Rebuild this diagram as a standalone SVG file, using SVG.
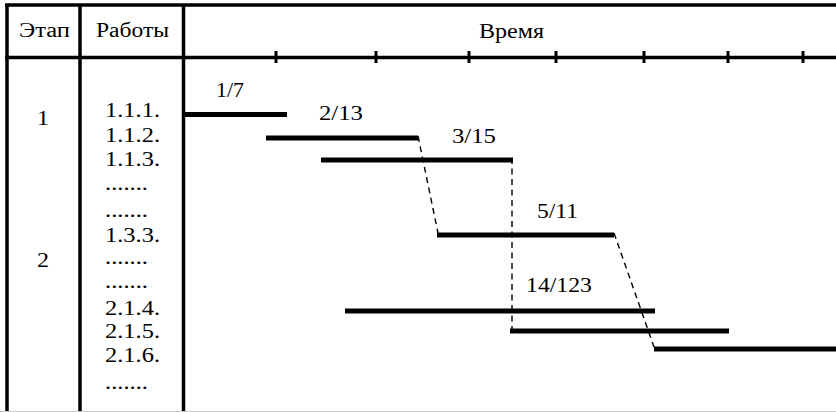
<svg xmlns="http://www.w3.org/2000/svg" width="836" height="412" viewBox="0 0 836 412">
  <style>
    text { font-family: "Liberation Serif", "DejaVu Serif", serif; font-size: 20px; fill: #000; }
    .grid { stroke: #000; stroke-width: 3.5; fill: none; }
    .tick { stroke: #000; stroke-width: 3; }
    .bar { stroke: #000; stroke-width: 5; stroke-linecap: butt; }
    .dep { stroke: #000; stroke-width: 1.4; stroke-dasharray: 6 4.5; fill: none; }
  </style>
  <rect width="836" height="412" fill="#fff"/>
  <g id="table">
    <line class="grid" x1="5" y1="5" x2="836" y2="5"/>
    <line class="grid" x1="5" y1="57.5" x2="836" y2="57.5"/>
    <line class="grid" x1="7" y1="4" x2="7" y2="412"/>
    <line class="grid" x1="80" y1="4" x2="80" y2="412"/>
    <line class="grid" x1="183.5" y1="4" x2="183.5" y2="412"/>
    <line x1="0" y1="411.5" x2="836" y2="411.5" stroke="#c8c8c8" stroke-width="1"/>
  </g>
  <g id="header">
    <text x="19" y="37" textLength="51" lengthAdjust="spacingAndGlyphs">Этап</text>
    <text x="96" y="37" textLength="73" lengthAdjust="spacingAndGlyphs">Работы</text>
    <text x="479" y="38" textLength="65" lengthAdjust="spacingAndGlyphs">Время</text>
  </g>
  <g id="ticks">
    <line class="tick" x1="276" y1="51" x2="276" y2="63"/>
    <line class="tick" x1="376" y1="51" x2="376" y2="63"/>
    <line class="tick" x1="469" y1="51" x2="469" y2="63"/>
    <line class="tick" x1="556" y1="51" x2="556" y2="63"/>
    <line class="tick" x1="644" y1="51" x2="644" y2="63"/>
    <line class="tick" x1="728" y1="51" x2="728" y2="63"/>
    <line class="tick" x1="803" y1="51" x2="803" y2="63"/>
  </g>
  <g id="stages">
    <text x="37" y="125" textLength="12" lengthAdjust="spacingAndGlyphs">1</text>
    <text x="37" y="267" textLength="12" lengthAdjust="spacingAndGlyphs">2</text>
  </g>
  <g id="works" lengthAdjust="spacingAndGlyphs">
    <text x="105" y="117" textLength="55" lengthAdjust="spacingAndGlyphs">1.1.1.</text>
    <text x="105" y="142" textLength="55" lengthAdjust="spacingAndGlyphs">1.1.2.</text>
    <text x="105" y="166" textLength="55" lengthAdjust="spacingAndGlyphs">1.1.3.</text>
    <text x="105" y="190" textLength="43" lengthAdjust="spacingAndGlyphs">.......</text>
    <text x="105" y="217" textLength="43" lengthAdjust="spacingAndGlyphs">.......</text>
    <text x="105" y="242" textLength="55" lengthAdjust="spacingAndGlyphs">1.3.3.</text>
    <text x="105" y="264" textLength="43" lengthAdjust="spacingAndGlyphs">.......</text>
    <text x="105" y="288" textLength="43" lengthAdjust="spacingAndGlyphs">.......</text>
    <text x="105" y="315" textLength="55" lengthAdjust="spacingAndGlyphs">2.1.4.</text>
    <text x="105" y="338" textLength="55" lengthAdjust="spacingAndGlyphs">2.1.5.</text>
    <text x="105" y="362" textLength="55" lengthAdjust="spacingAndGlyphs">2.1.6.</text>
    <text x="105" y="389" textLength="43" lengthAdjust="spacingAndGlyphs">.......</text>
  </g>
  <g id="task-1">
    <line class="bar" x1="183" y1="114.5" x2="287" y2="114.5"/>
    <text x="216" y="97" textLength="28" lengthAdjust="spacingAndGlyphs">1/7</text>
  </g>
  <g id="task-2">
    <line class="bar" x1="266" y1="138" x2="418" y2="138"/>
    <text x="319" y="120" textLength="44" lengthAdjust="spacingAndGlyphs">2/13</text>
  </g>
  <g id="task-3">
    <line class="bar" x1="321" y1="160" x2="513" y2="160"/>
    <text x="452" y="143" textLength="44" lengthAdjust="spacingAndGlyphs">3/15</text>
  </g>
  <g id="task-4">
    <line class="bar" x1="437" y1="235" x2="614" y2="235"/>
    <text x="537" y="218" textLength="41" lengthAdjust="spacingAndGlyphs">5/11</text>
  </g>
  <g id="task-5">
    <line class="bar" x1="345" y1="311" x2="655" y2="311"/>
    <text x="526" y="292" textLength="66" lengthAdjust="spacingAndGlyphs">14/123</text>
  </g>
  <g id="task-6">
    <line class="bar" x1="510" y1="331" x2="729" y2="331"/>
  </g>
  <g id="task-7">
    <line class="bar" x1="654" y1="349" x2="836" y2="349"/>
  </g>
  <g id="connectors">
    <line class="dep" x1="418" y1="136" x2="438" y2="233"/>
    <line class="dep" x1="512" y1="158" x2="512" y2="329"/>
    <line class="dep" x1="614" y1="233" x2="654" y2="347"/>
  </g>
</svg>
